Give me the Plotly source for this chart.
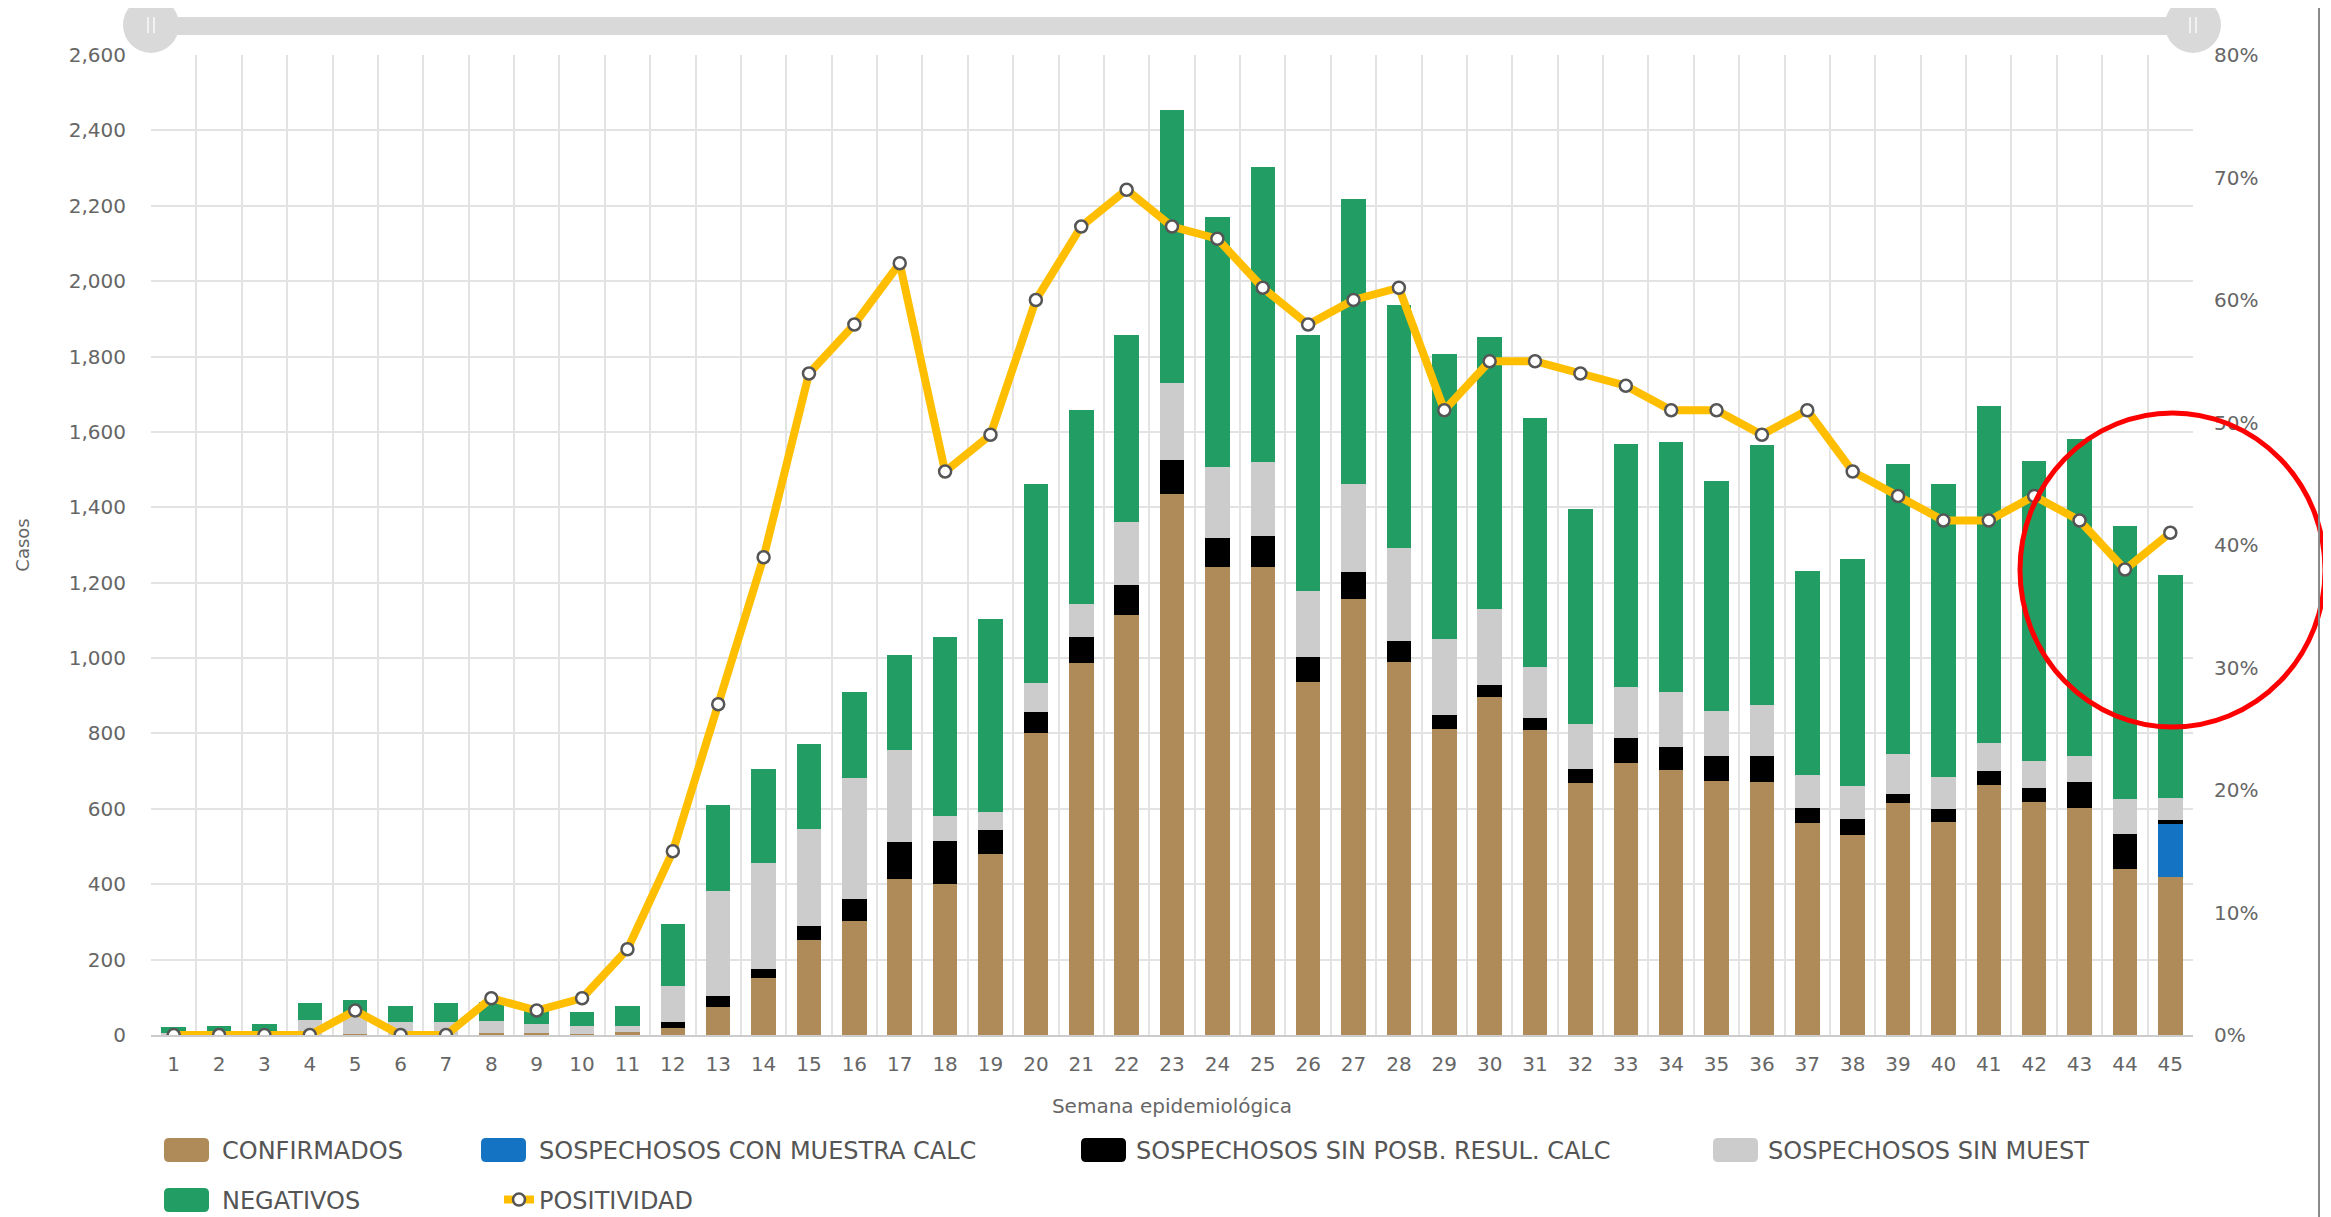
import plotly.graph_objects as go

weeks = [str(i) for i in range(1, 46)]

confirmados = [0, 0, 0, 0, 3, 0, 0, 5, 4, 3, 8, 18, 74, 150, 251, 302, 414, 401, 479, 800,
               986, 1115, 1434, 1241, 1241, 936, 1158, 990, 813, 897, 809, 669, 722, 704, 675,
               671, 562, 531, 615, 566, 663, 617, 603, 440, 418]
sosp_con_muestra = [0] * 44 + [142]
sosp_sin_posb = [0, 0, 0, 0, 0, 0, 0, 0, 0, 0, 0, 16, 29, 25, 37, 60, 97, 113, 66, 58,
                 70, 80, 91, 78, 84, 66, 70, 56, 37, 31, 33, 37, 66, 60, 64,
                 70, 41, 43, 25, 33, 37, 37, 68, 93, 10]
sosp_sin_muest = [5, 5, 5, 41, 45, 35, 35, 33, 25, 22, 15, 95, 280, 282, 259, 321, 245, 66, 47, 76,
                  88, 167, 206, 189, 195, 177, 233, 247, 200, 202, 134, 119, 136, 146, 121,
                  134, 88, 86, 105, 86, 76, 72, 68, 93, 60]
negativos = [15, 20, 25, 43, 45, 41, 49, 50, 36, 35, 53, 165, 228, 249, 224, 226, 251, 475, 512, 527,
             514, 496, 724, 663, 782, 679, 757, 644, 757, 722, 660, 570, 644, 663, 611,
             689, 541, 603, 770, 776, 893, 796, 842, 724, 591]
positividad = [0, 0, 0, 0, 2, 0, 0, 3, 2, 3, 7, 15, 27, 39, 54, 58, 63, 46, 49, 60,
               66, 69, 66, 65, 61, 58, 60, 61, 51, 55, 55, 54, 53, 51, 51,
               49, 51, 46, 44, 42, 42, 44, 42, 38, 41]

FONT = "DejaVu Sans"
TXT = "#666666"
LEG_TXT = "#555555"

C_CONF, C_BLUE, C_BLACK, C_GRAY, C_GREEN = "#B08B5A", "#1473C2", "#000000", "#CCCCCC", "#229E64"

fig = go.Figure()
bar_specs = [
    ("CONFIRMADOS", confirmados, C_CONF, "legend", 272),
    ("SOSPECHOSOS CON MUESTRA CALC", sosp_con_muestra, C_BLUE, "legend", 552),
    ("SOSPECHOSOS SIN POSB. RESUL. CALC", sosp_sin_posb, C_BLACK, "legend", 587),
    ("SOSPECHOSOS SIN MUEST", sosp_sin_muest, C_GRAY, "legend", 360),
    ("NEGATIVOS", negativos, C_GREEN, "legend2", 272),
]
for name, vals, col, lg, lw in bar_specs:
    fig.add_trace(go.Bar(x=weeks, y=vals, name=name, marker=dict(color=col, line=dict(width=0)),
                         legend=lg, legendwidth=lw))

fig.add_trace(go.Scatter(x=weeks, y=positividad, name="POSITIVIDAD", yaxis="y2", mode="lines+markers",
                         line=dict(color="#FFBF00", width=8),
                         marker=dict(size=12, color="white", line=dict(color="#555555", width=2.5)),
                         legend="legend2", legendwidth=300))

# page offset (body margin) of the rendered html
OFF = 8
SW, SH = 2331, 1217           # screenshot size
W, H = SW - OFF, SH - OFF     # figure size
# plot area in screenshot pixels
L, R, T, B = 151, 2193, 55, 1035
pw, ph = R - L, B - T


def px(sx):
    return (sx - L) / pw


def py(sy):
    return (B - sy) / ph


def rrect(x0, x1, y0, y1, r=5):
    """rounded rect path in paper coords from screenshot pixels"""
    X0, X1 = px(x0), px(x1)
    Yt, Yb = py(y0), py(y1)
    rx, ry = r / pw, r / ph
    return (f"M{X0 + rx},{Yt} L{X1 - rx},{Yt} Q{X1},{Yt} {X1},{Yt - ry} "
            f"L{X1},{Yb + ry} Q{X1},{Yb} {X1 - rx},{Yb} L{X0 + rx},{Yb} Q{X0},{Yb} {X0},{Yb + ry} "
            f"L{X0},{Yt - ry} Q{X0},{Yt} {X0 + rx},{Yt} Z")


shapes = []
# top range-slider decoration
shapes.append(dict(type="rect", xref="paper", yref="paper", x0=0, x1=1, y0=py(35), y1=py(17),
                   fillcolor="#D9D9D9", line=dict(width=0), layer="above"))
for xa in (0, 1):
    shapes.append(dict(type="circle", xref="paper", yref="paper", xsizemode="pixel", ysizemode="pixel",
                       xanchor=xa, yanchor=py(25), x0=-28, x1=28, y0=-28, y1=28,
                       fillcolor="#D9D9D9", line=dict(width=0), layer="above"))
    for dx in (-3, 3):
        shapes.append(dict(type="line", xref="paper", yref="paper", xsizemode="pixel", ysizemode="pixel",
                           xanchor=xa, yanchor=py(25), x0=dx, x1=dx, y0=-8, y1=8,
                           line=dict(color="#F2F2F2", width=2), layer="above"))
# red ellipse
shapes.append(dict(type="circle", xref="paper", yref="paper", x0=px(2020), x1=px(2325),
                   y0=py(727), y1=py(413), line=dict(color="#FF0000", width=5), layer="above"))
# right border line
shapes.append(dict(type="line", xref="paper", yref="paper", x0=px(2319), x1=px(2319),
                   y0=py(SH), y1=py(0), line=dict(color="#8A8A8A", width=2)))
# top-left small line
shapes.append(dict(type="line", xref="paper", yref="paper", x0=px(0), x1=px(60),
                   y0=py(1), y1=py(1), line=dict(color="#CCCCCC", width=2)))
# larger rounded legend swatches (behind the legend symbols)
ROW1, ROW2 = 1150, 1200
for (x0, yc, col) in [(164, ROW1, C_CONF), (481, ROW1, C_BLUE), (1081, ROW1, C_BLACK),
                      (1713, ROW1, C_GRAY), (164, ROW2, C_GREEN)]:
    shapes.append(dict(type="path", xref="paper", yref="paper", path=rrect(x0, x0 + 45, yc - 12, yc + 12),
                       fillcolor=col, line=dict(width=0), layer="above"))

ITEM0 = 182  # screenshot x where first legend item starts

fig.update_layout(
    width=W, height=H,
    margin=dict(l=L - OFF, r=W - (R - OFF), t=T - OFF, b=H - (B - OFF), autoexpand=False),
    paper_bgcolor="white", plot_bgcolor="white",
    font=dict(family=FONT, color=TXT, size=20),
    barmode="stack", bargap=0.46,
    showlegend=True,
    xaxis=dict(type="category", range=[-0.5, 44.5], tickson="boundaries", showgrid=True,
               gridcolor="#E3E3E3", gridwidth=1.5,
               ticks="", tickfont=dict(size=20, color=TXT), ticklabelstandoff=10,
               showline=True, linecolor="#CCCCCC", linewidth=2,
               title=dict(text="Semana epidemiológica", font=dict(size=20, color=TXT), standoff=24),
               fixedrange=True),
    yaxis=dict(range=[0, 2600], dtick=200, tickformat=",d", showgrid=True, gridcolor="#E3E3E3", gridwidth=1.5,
               zeroline=False, ticks="", tickfont=dict(size=20, color=TXT), ticklabelstandoff=24,
               title=dict(text="Casos", font=dict(size=18, color=TXT), standoff=34)),
    yaxis2=dict(range=[0, 80], dtick=10, ticksuffix="%", overlaying="y", side="right", showgrid=False,
                zeroline=False, ticks="", tickfont=dict(size=20, color=TXT), ticklabelstandoff=20),
    legend=dict(orientation="h", x=px(ITEM0), xanchor="left", y=py(ROW1), yanchor="middle",
                font=dict(size=24, color=LEG_TXT), bgcolor="rgba(0,0,0,0)", traceorder="normal"),
    legend2=dict(orientation="h", x=px(ITEM0), xanchor="left", y=py(ROW2), yanchor="middle",
                 font=dict(size=24, color=LEG_TXT), bgcolor="rgba(0,0,0,0)", traceorder="normal"),
    shapes=shapes,
)

fig.write_html("out.html")
